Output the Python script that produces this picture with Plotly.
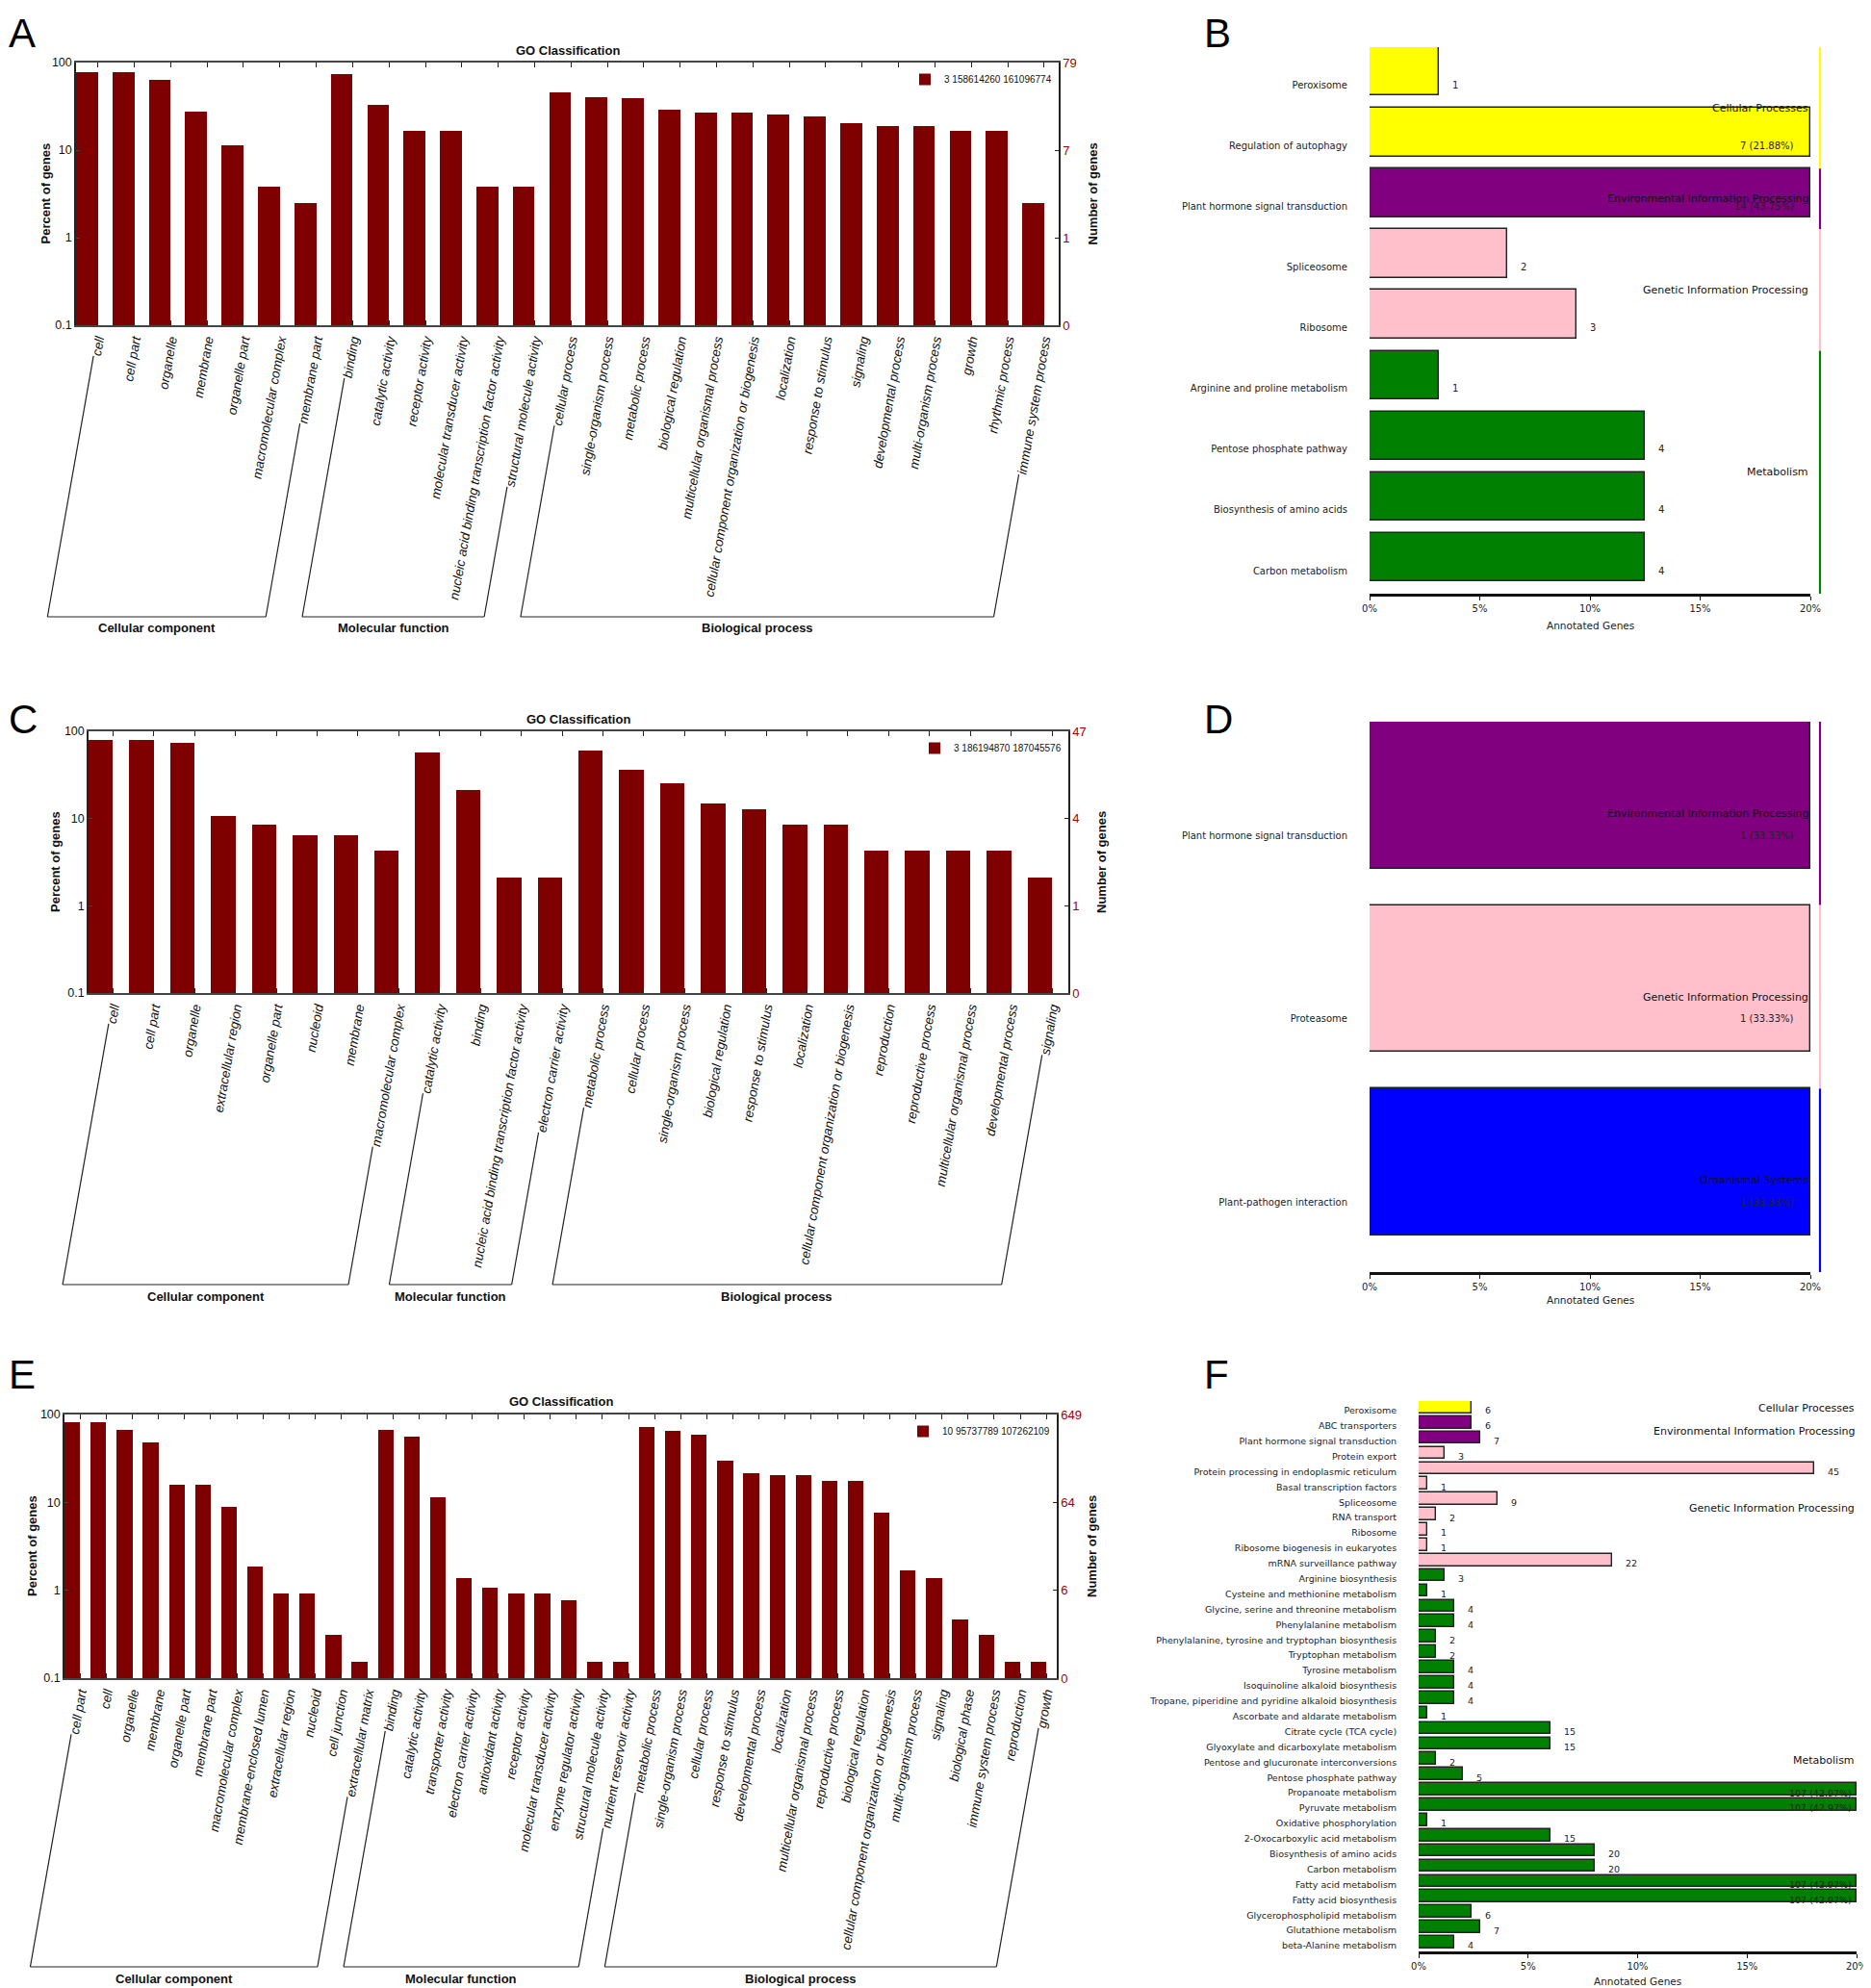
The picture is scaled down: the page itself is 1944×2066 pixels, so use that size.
import math
import plotly.graph_objects as go

W, H = 1944, 2066          # reference picture size
OFF = 8                    # default page margin around the figure
FW, FH = W - OFF, H - OFF  # figure size so that it fills the window
MAROON = "#7f0000"
DARKRED = "#a00000"
SANS = "Liberation Sans, Arial, sans-serif"
KFONT = "DejaVu Sans, sans-serif"

# ---------------- Panel A (GO) ----------------
a_terms = ["cell", "cell part", "organelle", "membrane", "organelle part", "macromolecular complex",
           "membrane part", "binding", "catalytic activity", "receptor activity",
           "molecular transducer activity", "nucleic acid binding transcription factor activity",
           "structural molecule activity", "cellular process", "single-organism process",
           "metabolic process", "biological regulation", "multicellular organismal process",
           "cellular component organization or biogenesis", "localization", "response to stimulus",
           "signaling", "developmental process", "multi-organism process", "growth",
           "rhythmic process", "immune system process"]
a_pct = [78.5, 78.5, 63.3, 27.8, 11.4, 3.8, 2.5, 74.7, 32.9, 16.5, 16.5, 3.8, 3.8, 45.6, 40.5,
         39.2, 29.1, 26.6, 26.6, 25.3, 24.1, 20.3, 19.0, 19.0, 16.5, 16.5, 2.5]
a_groups = [("Cellular component", 0, 6), ("Molecular function", 7, 12), ("Biological process", 13, 26)]
a_right_ticks = ["0", "1", "7", "79"]
a_legend = "3 158614260 161096774"

# ---------------- Panel C (GO) ----------------
c_terms = ["cell", "cell part", "organelle", "extracellular region", "organelle part", "nucleoid",
           "membrane", "macromolecular complex", "catalytic activity", "binding",
           "nucleic acid binding transcription factor activity", "electron carrier activity",
           "metabolic process", "cellular process", "single-organism process", "biological regulation",
           "response to stimulus", "localization", "cellular component organization or biogenesis",
           "reproduction", "reproductive process", "multicellular organismal process",
           "developmental process", "signaling"]
c_pct = [78.7, 78.7, 74.5, 10.6, 8.5, 6.4, 6.4, 4.3, 57.4, 21.3, 2.1, 2.1, 59.6, 36.2, 25.5,
         14.9, 12.8, 8.5, 8.5, 4.3, 4.3, 4.3, 4.3, 2.1]
c_groups = [("Cellular component", 0, 7), ("Molecular function", 8, 11), ("Biological process", 12, 23)]
c_right_ticks = ["0", "1", "4", "47"]
c_legend = "3 186194870 187045576"

# ---------------- Panel E (GO) ----------------
e_terms = ["cell part", "cell", "organelle", "membrane", "organelle part", "membrane part",
           "macromolecular complex", "membrane-enclosed lumen", "extracellular region", "nucleoid",
           "cell junction", "extracellular matrix", "binding", "catalytic activity",
           "transporter activity", "electron carrier activity", "antioxidant activity",
           "receptor activity", "molecular transducer activity", "enzyme regulator activity",
           "structural molecule activity", "nutrient reservoir activity", "metabolic process",
           "single-organism process", "cellular process", "response to stimulus",
           "developmental process", "localization", "multicellular organismal process",
           "reproductive process", "biological regulation",
           "cellular component organization or biogenesis", "multi-organism process", "signaling",
           "biological phase", "immune system process", "reproduction", "growth"]
e_pct = [81.1, 81.1, 67.3, 47.7, 16.0, 15.9, 8.8, 1.85, 0.92, 0.92, 0.31, 0.154,
         66.2, 56.5, 11.4, 1.39, 1.08, 0.92, 0.92, 0.77, 0.154, 0.154,
         71.5, 65.1, 58.9, 29.6, 21.4, 20.6, 20.2, 17.4, 17.4, 7.6, 1.70, 1.39, 0.46, 0.31,
         0.154, 0.154]
e_groups = [("Cellular component", 0, 11), ("Molecular function", 12, 21), ("Biological process", 22, 37)]
e_right_ticks = ["0", "6", "64", "649"]
e_legend = "10 95737789 107262109"

left_tick_text = ["0.1", "1", "10", "100"]
left_tick_vals = [0.1, 1, 10, 100]

# ---------------- Panel B (KEGG) ----------------
b_terms = ["Peroxisome", "Regulation of autophagy", "Plant hormone signal transduction",
           "Spliceosome", "Ribosome", "Arginine and proline metabolism",
           "Pentose phosphate pathway", "Biosynthesis of amino acids", "Carbon metabolism"]
b_counts = [1, 7, 14, 2, 3, 1, 4, 4, 4]
b_total = 32
b_classes = ["Cellular Processes", "Cellular Processes", "Environmental Information Processing",
             "Genetic Information Processing", "Genetic Information Processing",
             "Metabolism", "Metabolism", "Metabolism", "Metabolism"]

# ---------------- Panel D (KEGG) ----------------
d_terms = ["Plant hormone signal transduction", "Proteasome", "Plant-pathogen interaction"]
d_counts = [1, 1, 1]
d_total = 3
d_classes = ["Environmental Information Processing", "Genetic Information Processing",
             "Organismal Systems"]

# ---------------- Panel F (KEGG) ----------------
f_terms = ["Peroxisome", "ABC transporters", "Plant hormone signal transduction", "Protein export",
           "Protein processing in endoplasmic reticulum", "Basal transcription factors",
           "Spliceosome", "RNA transport", "Ribosome", "Ribosome biogenesis in eukaryotes",
           "mRNA surveillance pathway", "Arginine biosynthesis",
           "Cysteine and methionine metabolism", "Glycine, serine and threonine metabolism",
           "Phenylalanine metabolism", "Phenylalanine, tyrosine and tryptophan biosynthesis",
           "Tryptophan metabolism", "Tyrosine metabolism", "Isoquinoline alkaloid biosynthesis",
           "Tropane, piperidine and pyridine alkaloid biosynthesis",
           "Ascorbate and aldarate metabolism", "Citrate cycle (TCA cycle)",
           "Glyoxylate and dicarboxylate metabolism", "Pentose and glucuronate interconversions",
           "Pentose phosphate pathway", "Propanoate metabolism", "Pyruvate metabolism",
           "Oxidative phosphorylation", "2-Oxocarboxylic acid metabolism",
           "Biosynthesis of amino acids", "Carbon metabolism", "Fatty acid metabolism",
           "Fatty acid biosynthesis", "Glycerophospholipid metabolism", "Glutathione metabolism",
           "beta-Alanine metabolism"]
f_counts = [6, 6, 7, 3, 45, 1, 9, 2, 1, 1, 22, 3, 1, 4, 4, 2, 2, 4, 4, 4, 1, 15, 15, 2, 5,
            107, 107, 1, 15, 20, 20, 107, 107, 6, 7, 4]
f_total = 249
f_classes = (["Cellular Processes"] + ["Environmental Information Processing"] * 2
             + ["Genetic Information Processing"] * 8 + ["Metabolism"] * 25)

class_colors = {
    "Cellular Processes": "#ffff00",
    "Environmental Information Processing": "#800080",
    "Genetic Information Processing": "#ffc0cb",
    "Metabolism": "#008000",
    "Organismal Systems": "#0000ff",
}
pct_ticks = [0, 5, 10, 15, 20]
pct_tick_text = ["0%", "5%", "10%", "15%", "20%"]
PCT_CAP = 20

fig = go.Figure()
layout = {}
annotations = []
shapes = []


def px2x(px):
    return (px - OFF) / FW


def px2y(py):
    return 1 - (py - OFF) / FH


def axname(prefix, k):
    return prefix if k == 1 else f"{prefix}{k}"


def axkey(prefix, k):
    return f"{prefix}axis" if k == 1 else f"{prefix}axis{k}"


def note(text, px, py, size, family=SANS, angle=0, xanchor="center", yanchor="middle",
         color="#111"):
    annotations.append(dict(text=text, x=px2x(px), y=px2y(py), xref="paper", yref="paper",
                            xanchor=xanchor, yanchor=yanchor, showarrow=False, textangle=angle,
                            borderpad=0, font=dict(family=family, size=size, color=color)))


CW = {"i": 0.222, "j": 0.222, "l": 0.222, "f": 0.278, "t": 0.278, "r": 0.333, "m": 0.833,
      "w": 0.722, " ": 0.278, "-": 0.333, "c": 0.5, "k": 0.5, "s": 0.5, "v": 0.5, "x": 0.5,
      "y": 0.5, "z": 0.5}


def text_len(s, fs):
    return fs * sum(CW.get(ch, 0.556) for ch in s)


def go_panel(terms, pct, groups, rticks, legend_text, box, xk, yk, y2k, legend_key,
             title_y, ytitle_x, ntitle_x, baseline_y):
    left, right, top, bottom = box
    n = len(terms)
    r0, r1 = -0.3, n - 0.3
    tick_off = 0.3
    xs = list(range(n))
    xa, ya, ya2 = axname("x", xk), axname("y", yk), axname("y", y2k)
    fig.add_trace(go.Bar(x=xs, y=pct, width=0.6, marker=dict(color=MAROON, line=dict(width=0)),
                         name=legend_text, xaxis=xa, yaxis=ya,
                         legend=legend_key, showlegend=True, hoverinfo="skip"))
    # empty trace so that the right-hand "Number of genes" axis is drawn
    fig.add_trace(go.Scatter(x=[], y=[], xaxis=xa, yaxis=ya2, showlegend=False,
                             hoverinfo="skip"))
    tick_font_size = 13.5
    layout[axkey("x", xk)] = dict(
        domain=[px2x(left), px2x(right)], anchor=ya, range=[r0, r1],
        tickvals=[i + tick_off for i in xs], ticktext=terms, tickangle=-80,
        tickfont=dict(family=SANS, size=tick_font_size, color="#111", style="italic"),
        showline=True, linecolor="#444", linewidth=1.8, mirror="ticks",
        ticks="inside", ticklen=5, tickcolor="#222", showgrid=False, zeroline=False,
        automargin=False, fixedrange=True)
    layout[axkey("y", yk)] = dict(
        domain=[px2y(bottom), px2y(top)], anchor=xa, type="log", range=[-1, 2],
        tickvals=left_tick_vals, ticktext=left_tick_text, ticks="inside", ticklen=4,
        tickfont=dict(family=SANS, size=12.5, color="#111"), showline=True, linecolor="#222",
        linewidth=1.5, showgrid=False, zeroline=False, automargin=False)
    layout[axkey("y", y2k)] = dict(
        overlaying=ya, side="right", anchor=xa, type="log",
        range=[-1, 2], tickvals=left_tick_vals, ticktext=rticks, ticks="inside", ticklen=4,
        tickcolor="#222", tickfont=dict(family=SANS, size=13, color=DARKRED), showline=True,
        linecolor="#222", linewidth=1.5, showgrid=False, zeroline=False, automargin=False)
    layout[legend_key] = dict(
        x=px2x(right - 2), y=px2y(top + 3), xanchor="right", yanchor="top",
        bgcolor="rgba(0,0,0,0)", borderwidth=0, itemwidth=30,
        font=dict(family=SANS, size=10, color="#111"), tracegroupgap=0)
    note("<b>GO Classification</b>", (left + right) / 2, title_y, 13)
    cy = (top + bottom) / 2
    note("<b>Percent of genes</b>", ytitle_x, cy, 13, angle=-90)
    note("<b>Number of genes</b>", ntitle_x, cy, 13, angle=-90)
    # group brackets: extend first / last label of each group down to a baseline
    th = math.radians(80)
    unit = (right - left) / (r1 - r0)
    anchor_y = bottom + 6
    for gname, s, e in groups:
        bxs = []
        for idx in (s, e):
            ax = left + (idx + tick_off - r0) * unit
            L = text_len(terms[idx], tick_font_size) + 6
            sx = ax - L * math.cos(th)
            sy = anchor_y + L * math.sin(th)
            bx = ax - (baseline_y - anchor_y) / math.tan(th)
            bxs.append(bx)
            shapes.append(dict(type="line", xref="paper", yref="paper",
                               x0=px2x(sx), y0=px2y(sy), x1=px2x(bx), y1=px2y(baseline_y),
                               line=dict(color="#222", width=1.2)))
        shapes.append(dict(type="line", xref="paper", yref="paper",
                           x0=px2x(bxs[0]), y0=px2y(baseline_y), x1=px2x(bxs[1]),
                           y1=px2y(baseline_y), line=dict(color="#222", width=1.2)))
        note(f"<b>{gname}</b>", (bxs[0] + bxs[1]) / 2, baseline_y + 12, 13)


def kegg_panel(terms, counts, total, classes, box, xk, yk, line_x, cap_shift, label_fs,
               title_y):
    left, right, top, bottom = box
    n = len(terms)
    pcts = [c / total * 100 for c in counts]
    shown = [min(p, PCT_CAP) for p in pcts]
    idx = list(range(n))
    xa, ya = axname("x", xk), axname("y", yk)
    fig.add_trace(go.Bar(x=shown, y=idx, orientation="h", width=0.8,
                         marker=dict(color=[class_colors[c] for c in classes],
                                     line=dict(color="#222", width=1.4)),
                         xaxis=xa, yaxis=ya, showlegend=False, hoverinfo="skip"))
    layout[axkey("x", xk)] = dict(
        domain=[px2x(left), px2x(right)], anchor=ya, range=[0, PCT_CAP],
        tickvals=pct_ticks, ticktext=pct_tick_text, ticks="outside", ticklen=4,
        tickcolor="#111", tickfont=dict(family=KFONT, size=10, color="#222"),
        showline=True, linecolor="#111", linewidth=2.5, showgrid=False, zeroline=False,
        automargin=False)
    layout[axkey("y", yk)] = dict(
        domain=[px2y(bottom), px2y(top)], anchor=xa, range=[n - 0.4, -0.4],
        tickvals=[i + 0.22 for i in idx], ticktext=terms, ticks="outside", ticklen=20,
        tickcolor="rgba(0,0,0,0)", tickfont=dict(family=KFONT, size=label_fs, color="#222"),
        showline=False, showgrid=False, zeroline=False, automargin=False)
    note("Annotated Genes", (left + right) / 2, title_y, 10.5, family=KFONT, color="#222")
    for i, (c, p) in enumerate(zip(counts, pcts)):
        if p <= PCT_CAP:
            annotations.append(dict(text=str(c), x=p, y=i + 0.22, xref=xa, yref=ya,
                                    xanchor="left", yanchor="middle", xshift=12,
                                    showarrow=False,
                                    font=dict(family=KFONT, size=label_fs, color="#222")))
        else:
            annotations.append(dict(text=f"{c} ({p:.2f}%)", x=PCT_CAP, y=i + 0.22, xref=xa,
                                    yref=ya, xanchor="right", yanchor="middle",
                                    xshift=-cap_shift, showarrow=False,
                                    font=dict(family=KFONT, size=label_fs, color="#222")))
    # class segments
    segs = []
    for i, c in enumerate(classes):
        if segs and segs[-1][0] == c:
            segs[-1][2] = i
        else:
            segs.append([c, i, i])
    for c, s, e in segs:
        y0, y1 = s - 0.4, e + 0.6
        shapes.append(dict(type="line", xref="paper", yref=ya, x0=px2x(line_x), x1=px2x(line_x),
                           y0=y0, y1=y1, line=dict(color=class_colors[c], width=2.2)))
        annotations.append(dict(text=c, x=PCT_CAP, y=(y0 + y1) / 2, xref=xa, yref=ya,
                                xanchor="right", yanchor="middle", showarrow=False,
                                font=dict(family=KFONT, size=11, color="#111")))


# GO panels: box = (left, right, top, bottom) in reference pixels
go_panel(a_terms, a_pct, a_groups, a_right_ticks, a_legend, (79, 1100, 65, 338), 1, 1, 2,
         "legend", 53, 47, 1135, 641)
go_panel(c_terms, c_pct, c_groups, c_right_ticks, c_legend, (92, 1110, 760, 1032), 3, 4, 5,
         "legend2", 747, 57, 1144, 1335)
go_panel(e_terms, e_pct, e_groups, e_right_ticks, e_legend, (67, 1098, 1470, 1744), 5, 7, 8,
         "legend3", 1456, 33, 1134, 2044)

# KEGG panels
kegg_panel(b_terms, b_counts, b_total, b_classes, (1423, 1881, 49, 617), 2, 3, 1891, 15, 10, 650)
kegg_panel(d_terms, d_counts, d_total, d_classes, (1423, 1881, 750, 1322), 4, 6, 1891, 15, 10, 1351)
kegg_panel(f_terms, f_counts, f_total, f_classes, (1474, 1929, 1456, 2028), 6, 9, 1940, 3, 9.5, 2059)

# panel letters (left edge of the figure sits at the page margin)
for letter, lx, ly in [("A", 8, 35), ("B", 1250, 35), ("C", 8, 747), ("D", 1250, 747),
                       ("E", 8, 1428), ("F", 1250, 1428)]:
    note(letter, lx, ly, 42, xanchor="left", color="#000")

fig.update_layout(
    width=FW, height=FH, margin=dict(l=0, r=0, t=0, b=0), template="none",
    paper_bgcolor="white", plot_bgcolor="white", font=dict(family=SANS, color="#111"),
    bargap=0, annotations=annotations, shapes=shapes, **layout)

fig.write_html("out.html")
